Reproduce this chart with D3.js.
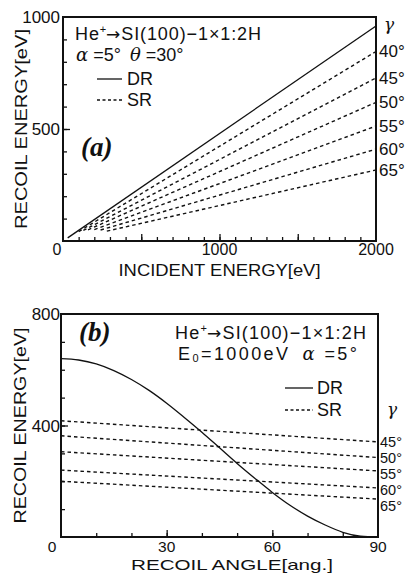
<!DOCTYPE html>
<html>
<head>
<meta charset="utf-8">
<script src="https://cdn.jsdelivr.net/npm/d3@7"></script>
<style>
  body { margin: 0; background: #fff; }
  svg { display: block; font-family: "Liberation Sans", Arial, sans-serif; }
</style>
</head>
<body>
<div class="chart"></div>
<script>
// panel (a): recoil energy vs incident energy
const drA = [[30, 14], [2000, 960]];
const gammaA = [40, 45, 50, 55, 60, 65];
const srA = [
    [[100, 42], [2000, 846]],
    [[130, 47], [2000, 728]],
    [[160, 50], [2000, 619]],
    [[200, 51], [2000, 513]],
    [[240, 49], [2000, 410]],
    [[280, 44], [2000, 317]]
];
const xTicksA = [1000, 2000];
const yTicksA = [500, 1000];

// panel (b): recoil energy vs recoil angle (E0 = 1000 eV)
const angleB = [0, 5, 10, 15, 20, 25, 30, 35, 40, 45, 50, 55, 60, 65, 70, 75, 80, 85, 90];
const drB = [640, 635, 621, 597, 565, 526, 480, 429, 376, 320, 264, 211, 160, 114, 75, 43, 17, 3, 0];
const gammaB = [45, 50, 55, 60, 65];
const srStartB = [417, 363, 306, 240, 200];   // at 0 deg
const srEndB = [341, 285, 237, 176, 136];     // at 90 deg
const xTicksB = [30, 60, 90];
const yTicksB = [400, 800];

const width = 411;
const height = 573;
const svg = d3.select('.chart')
    .append('svg')
    .attr('width', width)
    .attr('height', height);

function frame(x, y, xMinor, yMinor, xMajor, yMajor){
    let g = svg.append('g');
    // inward minor ticks
    g.append('g')
        .attr('transform', 'translate(0,' + y.range()[0] + ')')
        .call(d3.axisBottom(x).tickValues(xMinor).tickSize(-4).tickFormat(''))
        .call(a => a.select('.domain').remove());
    g.append('g')
        .attr('transform', 'translate(' + x.range()[0] + ',0)')
        .call(d3.axisLeft(y).tickValues(yMinor).tickSize(-4).tickFormat(''))
        .call(a => a.select('.domain').remove());
    // longer major ticks
    g.append('g')
        .attr('transform', 'translate(0,' + y.range()[0] + ')')
        .call(d3.axisBottom(x).tickValues(xMajor).tickSize(-7).tickFormat(''))
        .call(a => a.select('.domain').remove());
    g.append('g')
        .attr('transform', 'translate(' + x.range()[0] + ',0)')
        .call(d3.axisLeft(y).tickValues(yMajor).tickSize(-7).tickFormat(''))
        .call(a => a.select('.domain').remove());
    g.selectAll('.tick line').attr('stroke', '#111').attr('stroke-width', 1.3);
    // box
    g.append('rect')
        .attr('x', x.range()[0])
        .attr('y', y.range()[1])
        .attr('width', x.range()[1] - x.range()[0])
        .attr('height', y.range()[0] - y.range()[1])
        .attr('fill', 'none')
        .attr('stroke', '#111')
        .attr('stroke-width', 2);
}

function txt(str, x, y, size, anchor){
    return svg.append('text')
        .text(str)
        .attr('x', x)
        .attr('y', y)
        .attr('font-size', size)
        .attr('text-anchor', anchor || 'start')
        .attr('fill', '#111');
}

// He+ -> SI(100)-1x1:2H heading
function heading(x, y, len){
    let t = txt('He', x, y, 18);
    t.append('tspan').text('+').attr('dy', -7).attr('font-size', 11);
    t.append('tspan').text('→').attr('dy', 7).attr('dx', -1)
        .attr('font-family', '"DejaVu Sans"').attr('font-size', 17);
    t.append('tspan').text('SI(100)−1×1:2H');
    t.attr('textLength', len).attr('lengthAdjust', 'spacing');
    return t;
}

// ---------- panel (a) ----------
const xA = d3.scaleLinear().domain([0, 2000]).range([63, 376]);
const yA = d3.scaleLinear().domain([0, 1000]).range([241, 17]);
frame(xA, yA, d3.range(100, 2000, 100), d3.range(100, 1000, 100), [500, 1000, 1500], [500]);

const lineA = d3.line().x(d => xA(d[0])).y(d => yA(d[1]));
svg.append('path')
    .attr('d', lineA(drA))
    .attr('fill', 'none')
    .attr('stroke', '#111')
    .attr('stroke-width', 1.3);
svg.selectAll('.srA')
    .data(srA)
    .enter()
    .append('path')
    .attr('d', d => lineA(d))
    .attr('fill', 'none')
    .attr('stroke', '#111')
    .attr('stroke-width', 1.4)
    .attr('stroke-dasharray', '3.5,3');

xTicksA.forEach(v => txt(v, xA(v), 255, 16, 'middle'));
yTicksA.forEach(v => txt(v, 60, yA(v) + 6, 17, 'end'));
txt('0', xA(0) - 6, 255, 16, 'middle');

txt('INCIDENT ENERGY[eV]', (xA(0) + xA(2000)) / 2, 276, 16, 'middle')
    .attr('textLength', 202).attr('lengthAdjust', 'spacingAndGlyphs');
txt('RECOIL ENERGY[eV]', 0, 0, 17, 'middle')
    .attr('transform', 'translate(27,' + (yA(0) + yA(1000)) / 2 + ') rotate(-90)')
    .attr('textLength', 200).attr('lengthAdjust', 'spacingAndGlyphs');

heading(75, 40, 186);
let angA = txt('', 76, 61, 18);
angA.append('tspan').text('α').attr('font-style', 'italic').attr('font-family', 'DejaVu Serif');
angA.append('tspan').text(' =5°');
angA.append('tspan').text('θ').attr('dx', 9).attr('font-style', 'italic').attr('font-family', 'DejaVu Serif');
angA.append('tspan').text(' =30°');

svg.append('line').attr('x1', 97).attr('x2', 122).attr('y1', 79).attr('y2', 79)
    .attr('stroke', '#111').attr('stroke-width', 1.3);
txt('DR', 127, 85, 18);
svg.append('line').attr('x1', 97).attr('x2', 122).attr('y1', 100).attr('y2', 100)
    .attr('stroke', '#111').attr('stroke-width', 1.4).attr('stroke-dasharray', '3,2.5');
txt('SR', 127, 106, 18);

txt('(a)', 81, 156, 27)
    .attr('font-family', '"Liberation Serif", "DejaVu Serif", serif')
    .attr('font-weight', 'bold')
    .attr('font-style', 'italic');

txt('γ', 384, 30, 17).attr('font-style', 'italic').attr('font-family', 'DejaVu Serif');
svg.selectAll('.gA')
    .data(gammaA)
    .enter()
    .append('text')
    .text(d => d + '°')
    .attr('x', 379)
    .attr('y', (d, i) => yA(srA[i][1][1]) + 6)
    .attr('font-size', 17)
    .attr('fill', '#111');

// ---------- panel (b) ----------
const xB = d3.scaleLinear().domain([0, 90]).range([61, 378]);
const yB = d3.scaleLinear().domain([0, 800]).range([537, 314]);
frame(xB, yB, d3.range(10, 90, 10), d3.range(100, 800, 100), [30, 60], [400]);

const lineB = d3.line().x(d => xB(d[0])).y(d => yB(d[1])).curve(d3.curveMonotoneX);
svg.append('path')
    .attr('d', lineB(angleB.map((a, i) => [a, drB[i]])))
    .attr('fill', 'none')
    .attr('stroke', '#111')
    .attr('stroke-width', 1.3);
svg.selectAll('.srB')
    .data(gammaB)
    .enter()
    .append('path')
    .attr('d', (d, i) => lineB([[0, srStartB[i]], [90, srEndB[i]]]))
    .attr('fill', 'none')
    .attr('stroke', '#111')
    .attr('stroke-width', 1.4)
    .attr('stroke-dasharray', '3.5,3');

xTicksB.forEach(v => txt(v, xB(v), 552, 15.5, 'middle'));
yTicksB.forEach(v => txt(v, 60, yB(v) + 6, 17, 'end'));
txt('0', xB(0) - 9, 552, 15.5, 'middle');

txt('RECOIL ANGLE[ang.]', 232, 570, 15, 'middle')
    .attr('textLength', 202).attr('lengthAdjust', 'spacingAndGlyphs');
txt('RECOIL ENERGY[eV]', 0, 0, 17, 'middle')
    .attr('transform', 'translate(26,' + (yB(0) + yB(800)) / 2 + ') rotate(-90)')
    .attr('textLength', 196).attr('lengthAdjust', 'spacingAndGlyphs');

heading(175, 339, 191);
let eB = txt('E', 178, 360, 18);
eB.append('tspan').text('0').attr('font-size', 11).attr('dy', 2);
eB.append('tspan').text('=1000eV').attr('dy', -2);
eB.append('tspan').text('α').attr('dx', 12).attr('font-style', 'italic').attr('font-family', 'DejaVu Serif');
eB.append('tspan').text(' =5°');
eB.attr('textLength', 179).attr('lengthAdjust', 'spacing');

svg.append('line').attr('x1', 285).attr('x2', 313).attr('y1', 388).attr('y2', 388)
    .attr('stroke', '#111').attr('stroke-width', 1.3);
txt('DR', 317, 394, 18);
svg.append('line').attr('x1', 285).attr('x2', 313).attr('y1', 410).attr('y2', 410)
    .attr('stroke', '#111').attr('stroke-width', 1.4).attr('stroke-dasharray', '3,2.5');
txt('SR', 317, 416, 18);

txt('(b)', 79, 341, 27)
    .attr('font-family', '"Liberation Serif", "DejaVu Serif", serif')
    .attr('font-weight', 'bold')
    .attr('font-style', 'italic');

txt('γ', 387, 415, 17).attr('font-style', 'italic').attr('font-family', 'DejaVu Serif');
const gyB = [442, 458, 474, 490, 506];
svg.selectAll('.gB')
    .data(gammaB)
    .enter()
    .append('text')
    .text(d => d + '°')
    .attr('x', 380)
    .attr('y', (d, i) => gyB[i] + 5)
    .attr('font-size', 14.5)
    .attr('fill', '#111');
</script>
</body>
</html>
